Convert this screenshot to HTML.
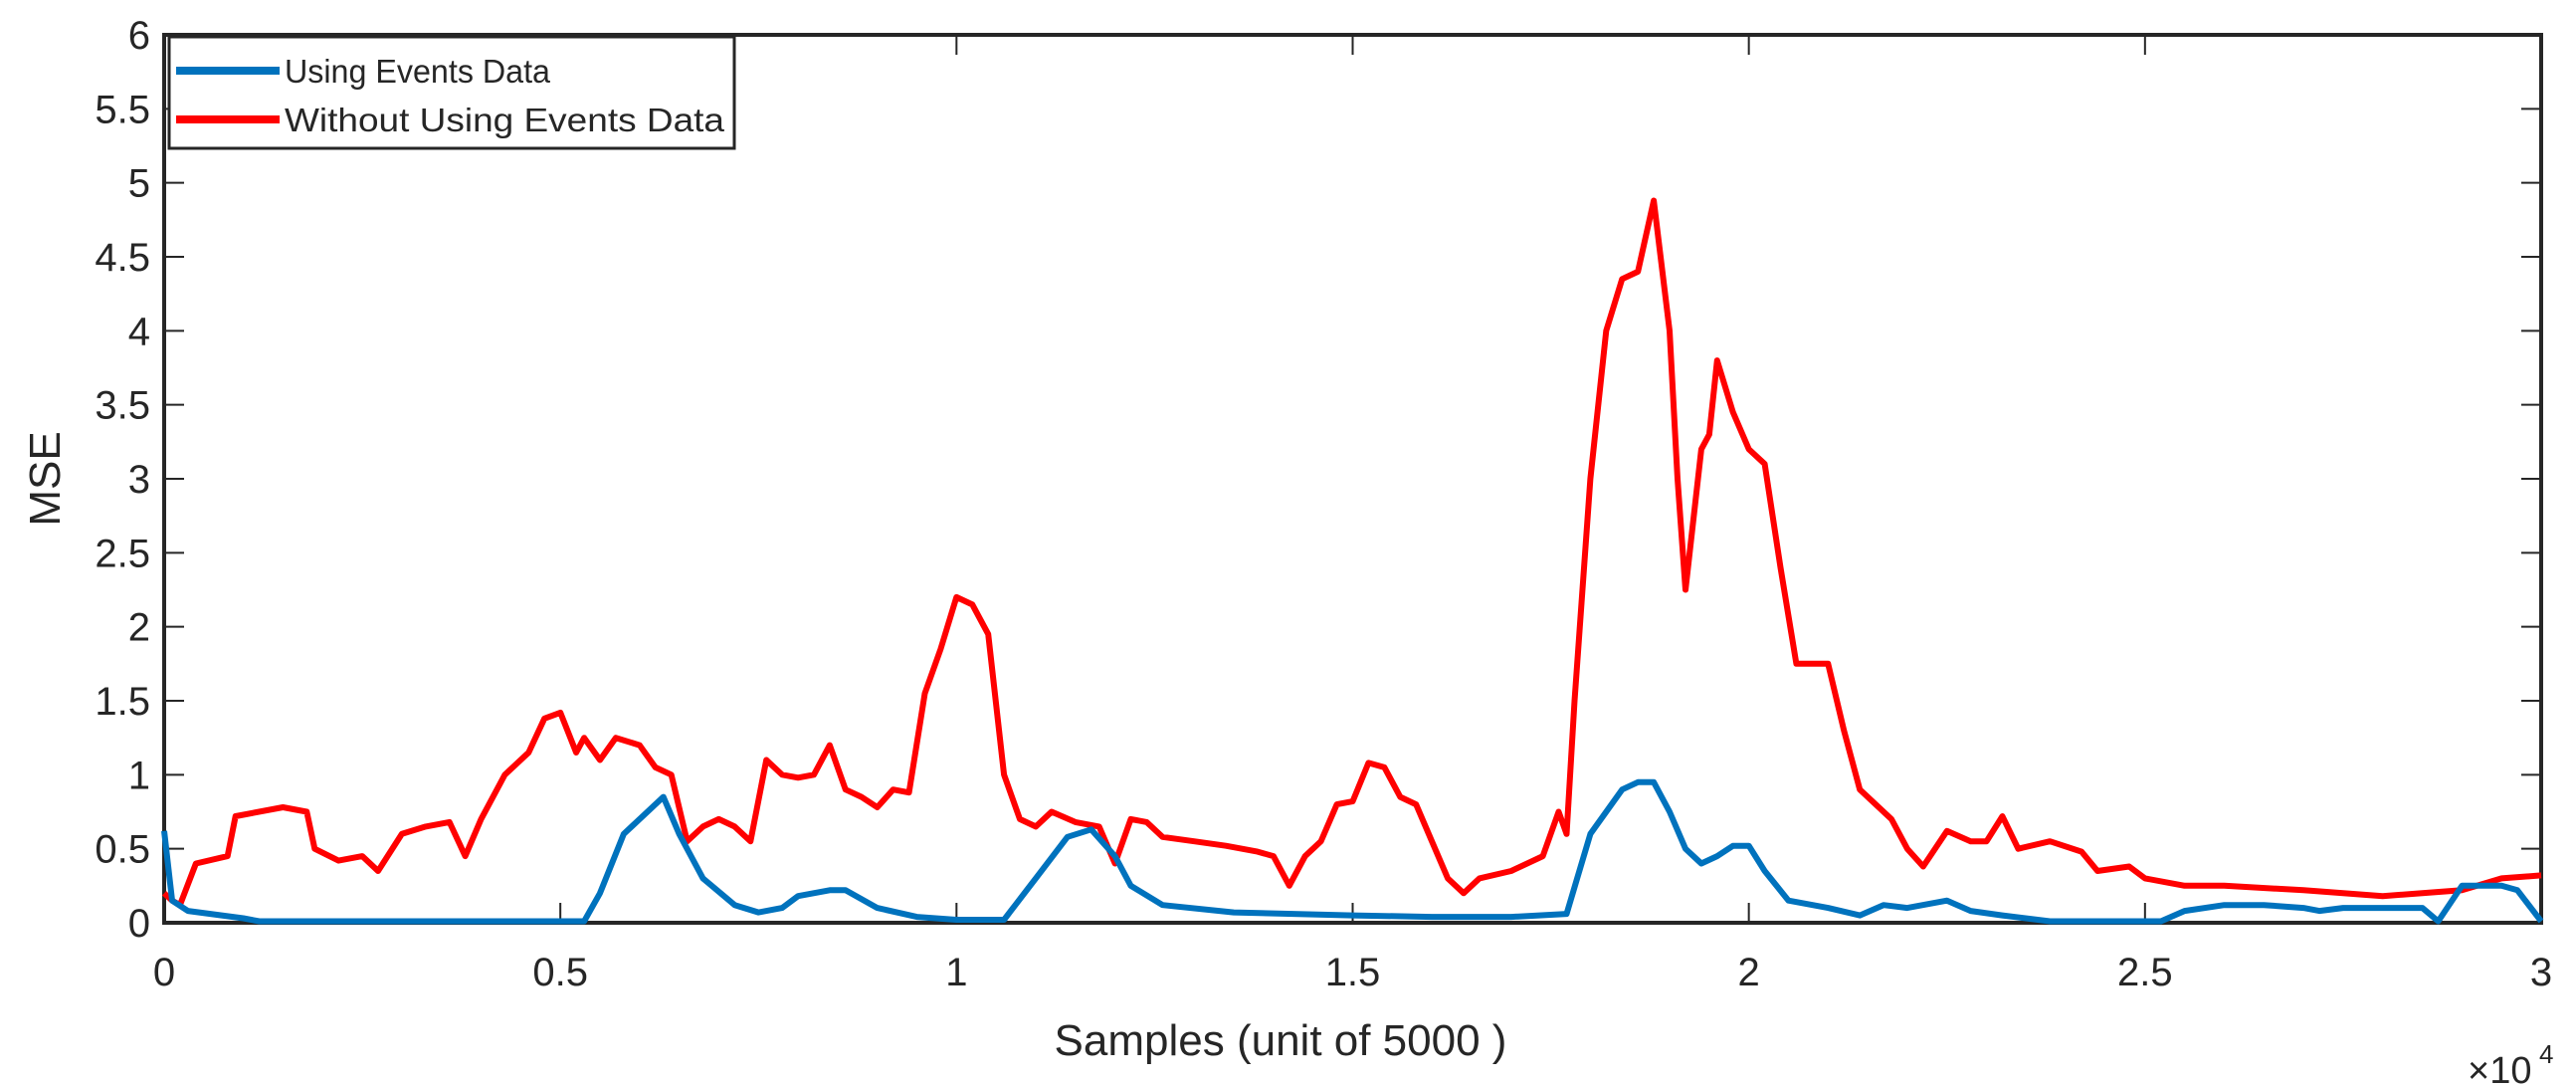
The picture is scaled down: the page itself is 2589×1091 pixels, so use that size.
<!DOCTYPE html>
<html><head><meta charset="utf-8"><style>
html,body{margin:0;padding:0;background:#fff}
svg{display:block}
text{font-family:"Liberation Sans",Arial,sans-serif;fill:#262626}
</style></head><body>
<svg id="chart" width="2589" height="1091" xmlns="http://www.w3.org/2000/svg"></svg>
<script>
const xTicks=[0,0.5,1,1.5,2,2.5,3];
const xTickLabels=["0","0.5","1","1.5","2","2.5","3"];
const yTicks=[0,0.5,1,1.5,2,2.5,3,3.5,4,4.5,5,5.5,6];
const yTickLabels=["0","0.5","1","1.5","2","2.5","3","3.5","4","4.5","5","5.5","6"];
const redX=[0,0.01,0.02,0.04,0.08,0.09,0.15,0.18,0.19,0.22,0.25,0.27,0.3,0.33,0.36,0.38,0.4,0.43,0.46,0.48,0.5,0.52,0.53,0.55,0.57,0.6,0.62,0.64,0.66,0.68,0.7,0.72,0.74,0.76,0.78,0.8,0.82,0.84,0.86,0.88,0.9,0.92,0.94,0.96,0.98,1.0,1.02,1.04,1.06,1.08,1.1,1.12,1.15,1.18,1.2,1.22,1.24,1.26,1.3,1.34,1.38,1.4,1.42,1.44,1.46,1.48,1.5,1.52,1.54,1.56,1.58,1.6,1.62,1.64,1.66,1.7,1.74,1.76,1.77,1.78,1.8,1.82,1.84,1.86,1.88,1.9,1.91,1.92,1.94,1.95,1.96,1.98,2.0,2.02,2.04,2.06,2.1,2.12,2.14,2.18,2.2,2.22,2.25,2.28,2.3,2.32,2.34,2.38,2.42,2.44,2.48,2.5,2.55,2.6,2.7,2.75,2.8,2.85,2.9,2.95,3.0];
const redY=[0.2,0.15,0.12,0.4,0.45,0.72,0.78,0.75,0.5,0.42,0.45,0.35,0.6,0.65,0.68,0.45,0.7,1.0,1.15,1.38,1.42,1.15,1.25,1.1,1.25,1.2,1.05,1.0,0.55,0.65,0.7,0.65,0.55,1.1,1.0,0.98,1.0,1.2,0.9,0.85,0.78,0.9,0.88,1.55,1.85,2.2,2.15,1.95,1.0,0.7,0.65,0.75,0.68,0.65,0.4,0.7,0.68,0.58,0.55,0.52,0.48,0.45,0.25,0.45,0.55,0.8,0.82,1.08,1.05,0.85,0.8,0.55,0.3,0.2,0.3,0.35,0.45,0.75,0.6,1.5,3.0,4.0,4.35,4.4,4.88,4.0,3.0,2.25,3.2,3.3,3.8,3.45,3.2,3.1,2.4,1.75,1.75,1.3,0.9,0.7,0.5,0.38,0.62,0.55,0.55,0.72,0.5,0.55,0.48,0.35,0.38,0.3,0.25,0.25,0.22,0.2,0.18,0.2,0.22,0.3,0.32];
const blueX=[0,0.01,0.03,0.1,0.12,0.5,0.53,0.55,0.58,0.6,0.63,0.65,0.68,0.72,0.75,0.78,0.8,0.84,0.86,0.9,0.95,1.0,1.06,1.1,1.14,1.17,1.2,1.22,1.26,1.35,1.5,1.6,1.7,1.77,1.8,1.84,1.86,1.88,1.9,1.92,1.94,1.96,1.98,2.0,2.02,2.05,2.1,2.14,2.17,2.2,2.25,2.28,2.32,2.38,2.52,2.55,2.6,2.65,2.7,2.72,2.75,2.85,2.87,2.9,2.95,2.97,3.0];
const blueY=[0.62,0.15,0.08,0.03,0.01,0.01,0.01,0.2,0.6,0.7,0.85,0.6,0.3,0.12,0.07,0.1,0.18,0.22,0.22,0.1,0.04,0.02,0.02,0.3,0.58,0.63,0.45,0.25,0.12,0.07,0.05,0.04,0.04,0.06,0.6,0.9,0.95,0.95,0.75,0.5,0.4,0.45,0.52,0.52,0.35,0.15,0.1,0.05,0.12,0.1,0.15,0.08,0.05,0.01,0.01,0.08,0.12,0.12,0.1,0.08,0.1,0.1,0.01,0.25,0.25,0.22,0.01];

const NS="http://www.w3.org/2000/svg";
const svg=document.getElementById('chart');
const L=165,R=2554,T=35,B=927;
const sx=v=>L+(v-0)/3*(R-L);
const sy=v=>B-(v-0)/6*(B-T);
function mk(tag,attrs,parent){const e=document.createElementNS(NS,tag);for(const k in attrs)e.setAttribute(k,attrs[k]);(parent||svg).appendChild(e);return e;}

const frame=mk('rect',{x:L,y:T,width:R-L,height:B-T,fill:'none',stroke:'#262626','stroke-width':4});



xTicks.forEach((v,i)=>{
  const t=mk('line',{x1:sx(v),x2:sx(v),y1:B,y2:B-20,stroke:'#262626','stroke-width':2});
  
  
  const t2=mk('line',{x1:sx(v),x2:sx(v),y1:T,y2:T+20,stroke:'#262626','stroke-width':2});
  
  
  const lb=mk('text',{x:sx(v),y:990,'font-size':40,'text-anchor':'middle'});
  lb.textContent=xTickLabels[i];
  
  
});
yTicks.forEach((v,i)=>{
  const t=mk('line',{x1:L,x2:L+20,y1:sy(v),y2:sy(v),stroke:'#262626','stroke-width':2});
  
  
  const t2=mk('line',{x1:R,x2:R-20,y1:sy(v),y2:sy(v),stroke:'#262626','stroke-width':2});
  
  
  const lb=mk('text',{x:L-14,y:sy(v)+14,'font-size':40,'text-anchor':'end'});
  lb.textContent=yTickLabels[i];
  
  
});

function series(xs,ys,color,name){
  const d=xs.map((x,i)=>(i?'L':'M')+sx(x).toFixed(1)+','+sy(ys[i]).toFixed(1)).join(' ');
  const p=mk('path',{d:d,fill:'none',stroke:color,'stroke-width':6,'stroke-linejoin':'round'});
  
  
}
series(redX,redY,'#ff0000','without-events-line');
series(blueX,blueY,'#0072bd','using-events-line');

const xt=mk('text',{x:1287,y:1060,'font-size':44,'text-anchor':'middle'});
xt.textContent='Samples (unit of 5000 )';


const ex=mk('text',{x:2480,y:1088,'font-size':38});
ex.textContent='×10';


const ex2=mk('text',{x:2552,y:1068,'font-size':26});
ex2.textContent='4';


const yt=mk('text',{x:0,y:0,'font-size':44,'text-anchor':'middle',transform:'translate(60,481) rotate(-90)'});
yt.textContent='MSE';



const lg=mk('g',{});


const lr=mk('rect',{x:170,y:37,width:568,height:112,fill:'#fff',stroke:'#262626','stroke-width':3},lg);


[['#0072bd','Using Events Data',71,267],['#ff0000','Without Using Events Data',120,442]].forEach(e=>{
  const g=mk('g',{},lg);
  
  
  mk('line',{x1:177,x2:281,y1:e[2],y2:e[2],stroke:e[0],'stroke-width':8},g);
  const t=mk('text',{x:286,y:e[2]+12,'font-size':33,textLength:e[3],lengthAdjust:'spacingAndGlyphs'},g);
  t.textContent=e[1];
});
</script>
</body></html>
